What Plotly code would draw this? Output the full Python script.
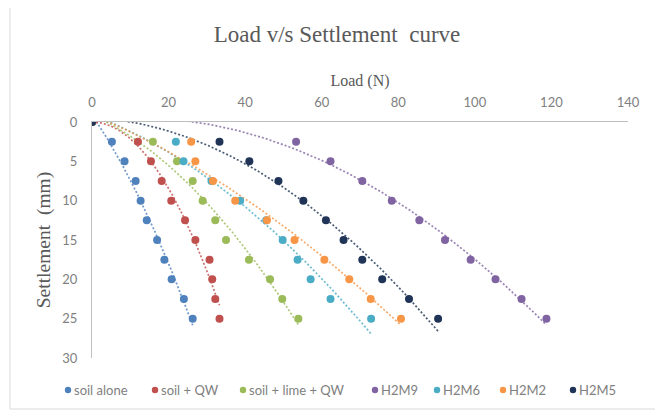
import numpy as np
import plotly.graph_objects as go

settlement = [0, 2.5, 5, 7.5, 10, 12.5, 15, 17.5, 20, 22.5, 25]

series_names = ["soil alone", "soil + QW", "soil + lime + QW", "H2M9", "H2M6", "H2M2", "H2M5"]
load_soil_alone = [0, 5.2, 8.5, 11.4, 12.7, 14.3, 17.0, 18.9, 20.8, 24.0, 26.3]
load_soil_qw = [0, 12.0, 15.4, 18.2, 20.7, 24.3, 27.0, 30.7, 31.4, 32.2, 33.3]
load_soil_lime_qw = [0, 15.9, 22.2, 26.3, 28.9, 32.2, 35.0, 41.0, 46.5, 49.7, 53.9]
load_h2m9 = [0, 53.3, 62.3, 70.6, 78.3, 85.5, 92.2, 98.9, 105.4, 112.2, 118.7]
load_h2m6 = [0, 21.9, 23.9, 31.2, 38.7, 45.5, 49.8, 53.7, 57.1, 62.3, 72.9]
load_h2m2 = [0, 25.9, 27.0, 31.6, 37.4, 45.7, 52.9, 60.7, 67.2, 72.8, 80.7]
load_h2m5 = [0, 33.3, 41.1, 48.7, 55.2, 61.1, 65.7, 70.6, 75.8, 82.8, 90.4]

loads = [load_soil_alone, load_soil_qw, load_soil_lime_qw, load_h2m9, load_h2m6, load_h2m2, load_h2m5]
colors = ["#4F81BD", "#C0504D", "#9BBB59", "#8064A2", "#4BACC6", "#F79646", "#1F3456"]

x_ticks = [0, 20, 40, 60, 80, 100, 120, 140]
y_ticks = [0, 5, 10, 15, 20, 25, 30]

# page-pixel helpers (the page body has an 8px margin; plot area spans x 92..628, y 122..358)
def px_x(p):
    return (p - 92) / 536

def px_y(p):
    return (358 - p) / 236

fig = go.Figure()

# polynomial (order 2) trendlines, dotted, like Excel
for name, xs, c in zip(series_names, loads, colors):
    coef = np.polyfit(xs, settlement, 2)
    xf = np.linspace(0, max(xs), 150)
    yf = np.polyval(coef, xf)
    fig.add_trace(go.Scatter(x=xf, y=yf, mode="lines", showlegend=False,
                             line=dict(color=c, width=1.7, dash="2px,2px"), opacity=0.8,
                             hoverinfo="skip"))

for name, xs, c in zip(series_names, loads, colors):
    fig.add_trace(go.Scatter(x=xs, y=settlement, mode="markers", name=name, showlegend=False,
                             marker=dict(color=c, size=8)))

# legend drawn as text labels with small circles (Excel-style compact spacing)
legend_marker_px = [68, 155, 243, 375, 437, 503, 573]
legend_y_px = 390
shapes = [dict(type="rect", xref="paper", yref="paper",
               x0=px_x(10), x1=px_x(659), y0=px_y(409), y1=px_y(7),
               line=dict(color="#D9D9D9", width=1), fillcolor="rgba(0,0,0,0)", layer="below")]
annotations = []
for name, c, mx in zip(series_names, colors, legend_marker_px):
    shapes.append(dict(type="circle", xref="paper", yref="paper",
                       x0=px_x(mx - 3.2), x1=px_x(mx + 3.2),
                       y0=px_y(legend_y_px + 3.2), y1=px_y(legend_y_px - 3.2),
                       fillcolor=c, line=dict(width=0)))
    annotations.append(dict(text=name, xref="paper", yref="paper",
                            x=px_x(mx + 4), y=px_y(legend_y_px), xanchor="left", yanchor="middle",
                            showarrow=False,
                            font=dict(family="Lato", size=13, color="#808080")))

fig.update_layout(
    width=655, height=404,
    margin=dict(l=84, r=35, t=114, b=54),
    paper_bgcolor="white", plot_bgcolor="white",
    showlegend=False,
    title=dict(text="Load v/s Settlement  curve", x=(337 - 8) / 655, xanchor="center",
               y=1 - 26 / 404, yanchor="middle", yref="container",
               font=dict(family="Liberation Serif", size=23, color="#595959")),
    xaxis=dict(side="top", range=[0, 140], tickvals=x_ticks, showgrid=False,
               zeroline=False, showline=True, linecolor="#BFBFBF", linewidth=1,
               ticks="", ticklabelstandoff=9,
               tickfont=dict(family="Lato", size=13, color="#808080"),
               title=dict(text="Load (N)", standoff=3,
                          font=dict(family="Liberation Serif", size=16, color="#595959"))),
    yaxis=dict(range=[30, 0], tickvals=y_ticks, showgrid=False, zeroline=False,
               showline=True, linecolor="#BFBFBF", linewidth=1, ticks="",
               ticklabelstandoff=11,
               tickfont=dict(family="Lato", size=13, color="#808080"),
               title=dict(text="Settlement  (mm)", standoff=6,
                          font=dict(family="Liberation Serif", size=19.5, color="#595959"))),
    shapes=shapes,
    annotations=annotations,
)

fig.write_html("out.html")
